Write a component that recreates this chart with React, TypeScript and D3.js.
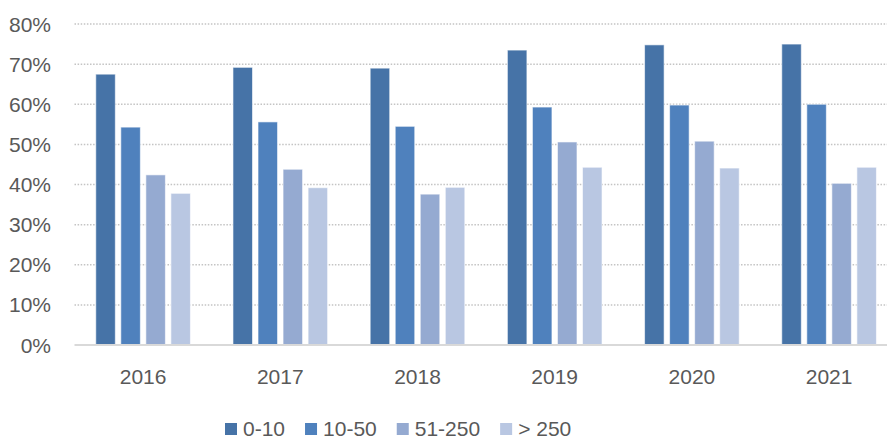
import React, { useEffect, useRef } from "react";
import * as d3 from "d3";

const years = ["2016", "2017", "2018", "2019", "2020", "2021"];
const seriesNames = ["0-10", "10-50", "51-250", "> 250"];
const s0to10 = [67.5, 69.2, 69.0, 73.5, 74.8, 75.0];
const s10to50 = [54.3, 55.6, 54.5, 59.3, 59.8, 60.0];
const s51to250 = [42.4, 43.8, 37.6, 50.6, 50.8, 40.3];
const sOver250 = [37.8, 39.2, 39.3, 44.3, 44.1, 44.3];
const yTicks = [0, 10, 20, 30, 40, 50, 60, 70, 80];

const seriesValues = [s0to10, s10to50, s51to250, sOver250];
const colors = ["#4673A7", "#4F81BD", "#95AAD1", "#B9C7E2"];

const W = 887;
const H = 438;
const FONT = "'Liberation Sans', Arial, sans-serif";
const TEXT = "#595959";

export default function App() {
  const ref = useRef<SVGSVGElement | null>(null);

  useEffect(() => {
    const svg = d3.select(ref.current);
    svg.selectAll("*").remove();

    const plotLeft = 74.5;
    const plotRight = 897.7;
    const y = d3.scaleLinear().domain([0, 80]).range([345, 24]);
    const x0 = d3
      .scaleBand<string>()
      .domain(years)
      .range([plotLeft, plotRight])
      .paddingInner(0.27)
      .paddingOuter(0.135);
    const x1 = d3
      .scaleBand<string>()
      .domain(seriesNames)
      .range([0, x0.bandwidth()])
      .paddingInner(0.22)
      .paddingOuter(0.11);

    // gridlines
    svg
      .append("g")
      .selectAll("line")
      .data(yTicks.filter((t) => t > 0))
      .join("line")
      .attr("x1", plotLeft)
      .attr("x2", W)
      .attr("y1", (d) => y(d))
      .attr("y2", (d) => y(d))
      .attr("stroke", "#c4c4c4")
      .attr("stroke-width", 1.5)
      .attr("stroke-dasharray", "1.5 1.6");

    // y labels
    svg
      .append("g")
      .selectAll("text")
      .data(yTicks)
      .join("text")
      .attr("x", 51)
      .attr("y", (d) => y(d))
      .attr("dy", "0.36em")
      .attr("text-anchor", "end")
      .attr("font-family", FONT)
      .attr("font-size", 21)
      .attr("fill", TEXT)
      .text((d) => `${d}%`);

    // bars
    const groups = svg
      .append("g")
      .selectAll("g")
      .data(years)
      .join("g")
      .attr("transform", (d) => `translate(${x0(d)},0)`);

    groups
      .selectAll("rect")
      .data((yr) => seriesNames.map((s, k) => ({ s, k, v: seriesValues[k][years.indexOf(yr)] })))
      .join("rect")
      .attr("x", (d) => x1(d.s)!)
      .attr("width", x1.bandwidth())
      .attr("y", (d) => y(d.v))
      .attr("height", (d) => y(0) - y(d.v))
      .attr("fill", (d) => colors[d.k])
      .attr("stroke", "#ffffff")
      .attr("stroke-opacity", 0.6)
      .attr("stroke-width", 1);

    // axis line
    svg
      .append("line")
      .attr("x1", plotLeft)
      .attr("x2", W)
      .attr("y1", y(0))
      .attr("y2", y(0))
      .attr("stroke", "#d9d9d9")
      .attr("stroke-width", 2);

    // x labels
    svg
      .append("g")
      .selectAll("text")
      .data(years)
      .join("text")
      .attr("x", (d) => x0(d)! + x0.bandwidth() / 2)
      .attr("y", 384)
      .attr("text-anchor", "middle")
      .attr("font-family", FONT)
      .attr("font-size", 21)
      .attr("fill", TEXT)
      .text((d) => d);

    // legend
    const legend = svg.append("g");
    let cx = 225;
    seriesNames.forEach((name, k) => {
      legend
        .append("rect")
        .attr("x", cx)
        .attr("y", 423)
        .attr("width", 12)
        .attr("height", 12)
        .attr("fill", colors[k]);
      const t = legend
        .append("text")
        .attr("x", cx + 18)
        .attr("y", 435.5)
        .attr("font-family", FONT)
        .attr("font-size", 21)
        .attr("fill", TEXT)
        .text(name);
      const w = (t.node() as SVGTextElement).getComputedTextLength();
      cx = cx + 18 + w + 20;
    });
  }, []);

  return (
    <svg
      ref={ref}
      width={W}
      height={H}
      style={{ position: "absolute", left: 0, top: 0, background: "#fff" }}
    />
  );
}
